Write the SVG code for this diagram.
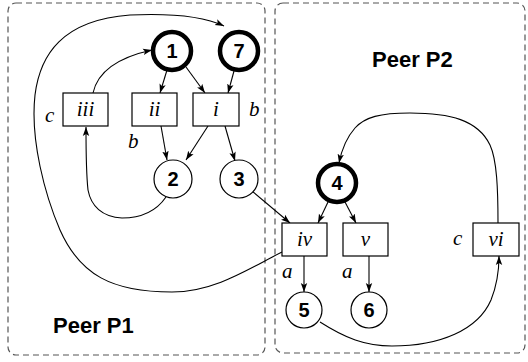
<svg xmlns="http://www.w3.org/2000/svg" width="528" height="362" viewBox="0 0 528 362">
<style>
.peer{fill:none;stroke:#555;stroke-width:1.2;stroke-dasharray:6 4}
.ptitle{font-family:"Liberation Sans",Arial,sans-serif;font-weight:bold;font-size:22px;fill:#000}
.box{fill:#fff;stroke:#000;stroke-width:1.2}
.thin{fill:#fff;stroke:#000;stroke-width:1.2}
.thick{fill:#fff;stroke:#000;stroke-width:4.5}
.num{font-family:"Liberation Sans",Arial,sans-serif;font-weight:bold;font-size:20px;text-anchor:middle;fill:#000}
.it{font-family:"Liberation Serif","Times New Roman",serif;font-style:italic;font-size:21px;fill:#000}
.itc{text-anchor:middle}
.edge{fill:none;stroke:#000;stroke-width:1.1;marker-end:url(#ah)}
</style>
<defs>
<marker id="ah" markerUnits="userSpaceOnUse" markerWidth="10" markerHeight="8" refX="9" refY="4" orient="auto">
<path d="M0,0.8 L9,4 L0,7.2 L2,4 Z" fill="#000"/>
</marker>
</defs>
<g id="peer-p1">
<rect class="peer" x="8" y="3" width="257" height="352" rx="8"/>
<text class="ptitle" x="53" y="333">Peer P1</text>
</g>
<g id="peer-p2">
<rect class="peer" x="275" y="3" width="250" height="350" rx="8"/>
<text class="ptitle" x="372" y="67">Peer P2</text>
</g>
<g id="connectors">
<path class="edge" d="M167,70 L160,93"/>
<path class="edge" d="M186,67 L205,93"/>
<path class="edge" d="M234,71 L228,93"/>
<path class="edge" d="M93,93 C98,70 120,57 152,50"/>
<path class="edge" d="M161,126 L167,160"/>
<path class="edge" d="M208,126 L186,160"/>
<path class="edge" d="M225,126 L235,161"/>
<path class="edge" d="M166,197 C155,213 138,218 122,218 C102,217 91,206 88,190 C86,172 86,150 86,127"/>
<path class="edge" d="M282,252 C250,268 215,292 172,292 C112,292 80,275 60,230 C45,195 30,140 35,95 C40,55 62,20 130,15 C175,13 205,17 224,26"/>
<path class="edge" d="M252,191 L290,223"/>
<path class="edge" d="M328,202 L318,223"/>
<path class="edge" d="M345,202 L356,223"/>
<path class="edge" d="M304,256 L304,292"/>
<path class="edge" d="M369,256 L369,292"/>
<path class="edge" d="M320,322 C345,338 365,346 392,346 C440,346 478,330 491,300 C497,285 499,272 499,256"/>
<path class="edge" d="M498,223 C498,190 497,160 490,145 C478,120 450,113 410,113 C380,113 365,117 355,128 C347,137 342,148 339,163"/>
</g>
<g id="n1"><circle class="thick" cx="172" cy="51" r="19"/><text class="num" x="172" y="58">1</text></g>
<g id="n7"><circle class="thick" cx="239" cy="51" r="19"/><text class="num" x="239" y="58">7</text></g>
<g id="n2"><circle class="thin" cx="173" cy="179" r="19"/><text class="num" x="173" y="186">2</text></g>
<g id="n3"><circle class="thin" cx="239" cy="179" r="19"/><text class="num" x="239" y="186">3</text></g>
<g id="n4"><circle class="thick" cx="337" cy="183" r="19"/><text class="num" x="337" y="190">4</text></g>
<g id="n5"><circle class="thin" cx="304" cy="310" r="18"/><text class="num" x="304" y="317">5</text></g>
<g id="n6"><circle class="thin" cx="369" cy="310" r="18"/><text class="num" x="369" y="317">6</text></g>
<g id="iii"><rect class="box" x="63" y="93" width="45" height="33"/><text class="it itc" x="85.5" y="116">iii</text><text class="it" x="45" y="122">c</text></g>
<g id="ii"><rect class="box" x="132" y="93" width="45" height="33"/><text class="it itc" x="154.5" y="116">ii</text><text class="it" x="128" y="148">b</text></g>
<g id="i"><rect class="box" x="193" y="93" width="46" height="33"/><text class="it itc" x="216" y="116">i</text><text class="it" x="249" y="116">b</text></g>
<g id="iv"><rect class="box" x="282" y="223" width="45" height="33"/><text class="it itc" x="304.5" y="246">iv</text><text class="it" x="282" y="278">a</text></g>
<g id="v"><rect class="box" x="343" y="223" width="45" height="33"/><text class="it itc" x="365.5" y="246">v</text><text class="it" x="342" y="278">a</text></g>
<g id="vi"><rect class="box" x="473" y="223" width="46" height="33"/><text class="it itc" x="496" y="246">vi</text><text class="it" x="453" y="245">c</text></g>
</svg>
